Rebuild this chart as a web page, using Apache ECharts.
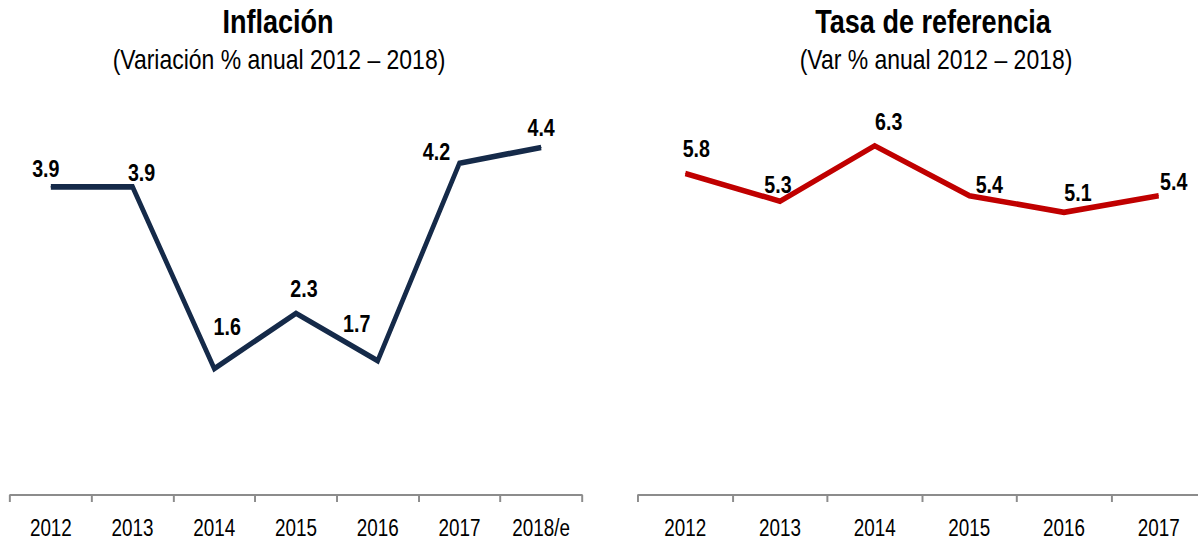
<!DOCTYPE html>
<html>
<head>
<meta charset="utf-8">
<script src="https://cdn.jsdelivr.net/npm/echarts@6/dist/echarts.min.js"></script>
<style>
  html, body { margin: 0; padding: 0; background: #fff; overflow: hidden; }
  #frame { width: 1198px; height: 539px; overflow: hidden; position: relative; }
  /* The chart is laid out wide and squeezed horizontally so the sans-serif
     text takes on a narrow (condensed) proportion. */
  #chart { width: 1500px; height: 539px; transform: scaleX(0.82); transform-origin: 0 0; }
</style>
</head>
<body>
<div id="frame"><div id="chart"></div></div>
<script>
// Inflation panel
const inflYears = ['2012', '2013', '2014', '2015', '2016', '2017', '2018/e'];
const inflValues = [3.9, 3.9, 1.6, 2.3, 1.7, 4.2, 4.4];

// Reference rate panel
const rateYears = ['2012', '2013', '2014', '2015', '2016', '2017'];
const rateValues = [5.8, 5.3, 6.3, 5.4, 5.1, 5.4];

const SQUEEZE = 0.82;               // horizontal squeeze applied to #chart
const sx = x => x / SQUEEZE;        // on-screen x -> layout x
const FONT = '"Liberation Sans", Arial, sans-serif';

// Hand-placed label nudges (on-screen pixels from each point)
const inflLabelShift = [[-5, -18], [9, -14], [13, -42], [8, -25], [-21, -37], [-23, -11], [0, -20]];
const rateLabelShift = [[11, -25], [-2, -16], [14, -24], [20, -11], [14, -20], [15, -14]];

function pointData(values, shifts) {
  return values.map((v, i) => ({
    value: v,
    label: { offset: [sx(shifts[i][0]), shifts[i][1]] }
  }));
}

const axisStyle = {
  axisLine: { show: true, lineStyle: { color: '#8c8c8c', width: 2 } },
  axisTick: { show: true, length: 7, lineStyle: { color: '#8c8c8c', width: 2.4 } },
  axisLabel: { color: '#000', fontFamily: FONT, fontSize: 23, margin: 21, interval: 0 },
  splitLine: { show: false }
};

function lineSeries(idx, values, shifts, color) {
  return {
    type: 'line',
    xAxisIndex: idx,
    yAxisIndex: idx,
    data: pointData(values, shifts),
    symbol: 'circle',
    symbolSize: 1,
    showSymbol: true,
    itemStyle: { color: color },
    lineStyle: { color: color, width: 5.6, cap: 'butt', join: 'miter' },
    label: {
      show: true,
      position: 'inside',
      align: 'center',
      verticalAlign: 'middle',
      color: '#000',
      fontFamily: FONT,
      fontWeight: 'bold',
      fontSize: 24,
      formatter: p => p.value.toFixed(1)
    },
    emphasis: { disabled: true },
    animation: false
  };
}

function titleText(x, y, text, font) {
  return {
    type: 'text', x: sx(x), y: y,
    style: { text: text, textAlign: 'center', textVerticalAlign: 'middle', font: font, fill: '#000' }
  };
}

const chart = echarts.init(document.getElementById('chart'), null, { renderer: 'svg' });
chart.setOption({
  backgroundColor: '#ffffff',
  animation: false,
  grid: [
    { left: sx(10), width: sx(572), top: 100, bottom: 44 },
    { left: sx(638), width: sx(568), top: 107, bottom: 44 }
  ],
  xAxis: [
    Object.assign({ type: 'category', gridIndex: 0, data: inflYears, boundaryGap: true }, axisStyle),
    Object.assign({ type: 'category', gridIndex: 1, data: rateYears, boundaryGap: true }, axisStyle)
  ],
  yAxis: [
    { type: 'value', gridIndex: 0, min: 0, max: 5, show: false },
    { type: 'value', gridIndex: 1, min: 0, max: 7, show: false }
  ],
  graphic: [
    titleText(278, 22, 'Inflación', 'bold 33px ' + FONT),
    titleText(279, 59, '(Variación % anual 2012 – 2018)', '28px ' + FONT),
    titleText(933, 22, 'Tasa de referencia', 'bold 33px ' + FONT),
    titleText(936, 59, '(Var % anual 2012 – 2018)', '28px ' + FONT)
  ],
  series: [
    lineSeries(0, inflValues, inflLabelShift, '#152a49'),
    lineSeries(1, rateValues, rateLabelShift, '#c00000')
  ]
});
</script>
</body>
</html>
